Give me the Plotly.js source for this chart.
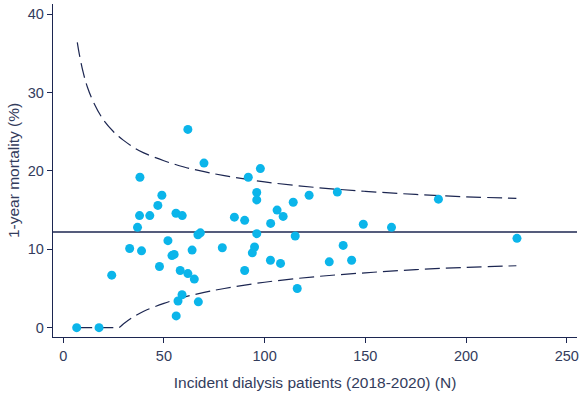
<!DOCTYPE html>
<html>
<head>
<meta charset="utf-8">
<script src="https://cdn.plot.ly/plotly-3.0.1.min.js"></script>
<style>html,body{margin:0;padding:0;background:#fff;}#chart{width:580px;height:396px;}</style>
</head>
<body>
<div id="chart"></div>
<script>
// Centre: incident dialysis patients (N) and 1-year mortality (%)
const patients = [6.7, 17.8, 24.1, 33.0, 36.9, 37.9, 38.1, 38.9, 43.0, 47.0, 47.8, 49.0, 52.0, 54.0, 55.1,
  56.0, 56.1, 57.0, 58.1, 59.0, 59.1, 61.9, 61.9, 64.0, 65.1, 66.9, 67.1, 68.1, 69.9, 79.0,
  85.0, 90.1, 90.1, 91.9, 93.9, 95.0, 96.1, 96.1, 96.1, 97.9, 102.9, 103.0, 106.2, 107.9, 109.2,
  114.2, 115.2, 116.2, 122.1, 132.1, 136.1, 139.0, 143.2, 149.0, 163.0, 186.3, 225.3];
const mortality = [0, 0, 6.7, 10.1, 12.8, 14.3, 19.2, 9.8, 14.3, 15.6, 7.8, 16.9, 11.1, 9.2, 9.35,
  14.6, 1.5, 3.4, 7.3, 4.2, 14.3, 25.3, 6.9, 9.9, 6.2, 11.85, 3.3, 12.1, 21.0, 10.2,
  14.1, 13.7, 7.3, 19.2, 9.55, 10.3, 17.25, 16.3, 12.0, 20.3, 8.6, 13.3, 15.0, 8.2, 14.2,
  16.0, 11.7, 5.0, 16.9, 8.4, 17.3, 10.5, 8.6, 13.2, 12.8, 16.4, 11.4];

// Overall mortality (%)
const overall = 12.2;

// Control limits
const limitN     = [7, 8, 10, 12, 15, 20, 25, 27.6, 30, 35, 40, 50, 60, 70, 80, 100, 125, 150, 175, 200, 225];
const upperLimit = [36.4, 34.9, 32.5, 30.7, 28.8, 26.5, 25.0, 24.4, 23.9, 23.0, 22.3, 21.3, 20.5, 19.9, 19.4, 18.6, 17.9, 17.4, 17.0, 16.7, 16.5];
const lowerLimit = [0, 0, 0, 0, 0, 0, 0, 0, 0.5, 1.4, 2.1, 3.1, 3.9, 4.5, 5.0, 5.8, 6.5, 7.0, 7.4, 7.7, 7.9];

const xTicks = [0, 50, 100, 150, 200, 250];
const yTicks = [0, 10, 20, 30, 40];

const navy = '#1c2651';
const textCol = '#333c5c';
const fam = 'Liberation Sans, Arial, sans-serif';

const traces = [
  {x: limitN, y: upperLimit, mode: 'lines', line: {color: navy, width: 1.2, dash: '15px,6px', shape: 'spline'}, hoverinfo: 'skip'},
  {x: limitN, y: lowerLimit, mode: 'lines', line: {color: navy, width: 1.2, dash: '15px,6px', shape: 'spline'}, hoverinfo: 'skip'},
  {x: patients, y: mortality, mode: 'markers', marker: {color: '#0bb5ea', size: 9}}
];

const axisCommon = {
  showgrid: false, zeroline: false, showline: true, linecolor: navy, linewidth: 1.3,
  ticks: 'outside', ticklen: 5, tickcolor: navy, tickwidth: 1,
  tickfont: {size: 14.5, color: textCol, family: fam}
};

const layout = {
  width: 580, height: 396,
  margin: {l: 53, r: 3, t: 4, b: 59},
  paper_bgcolor: '#fff', plot_bgcolor: '#fff',
  showlegend: false,
  font: {family: fam, color: textCol, size: 14},
  xaxis: Object.assign({}, axisCommon, {
    range: [-5.06, 255.1], tickvals: xTicks, ticktext: xTicks.map(String),
    title: {text: 'Incident dialysis patients (2018-2020) (N)', font: {size: 15.5, color: textCol, family: fam}, standoff: 14}
  }),
  yaxis: Object.assign({}, axisCommon, {
    range: [-1.19, 41.3], tickvals: yTicks, ticktext: yTicks.map(String),
    title: {text: '1-year mortality (%)', font: {size: 15.5, color: textCol, family: fam}, standoff: 4}
  }),
  shapes: [{type: 'line', xref: 'paper', x0: 0, x1: 1, yref: 'y', y0: overall, y1: overall,
            line: {color: navy, width: 1.5}, layer: 'below'}]
};

Plotly.newPlot('chart', traces, layout, {displayModeBar: false, staticPlot: true});
</script>
</body>
</html>
